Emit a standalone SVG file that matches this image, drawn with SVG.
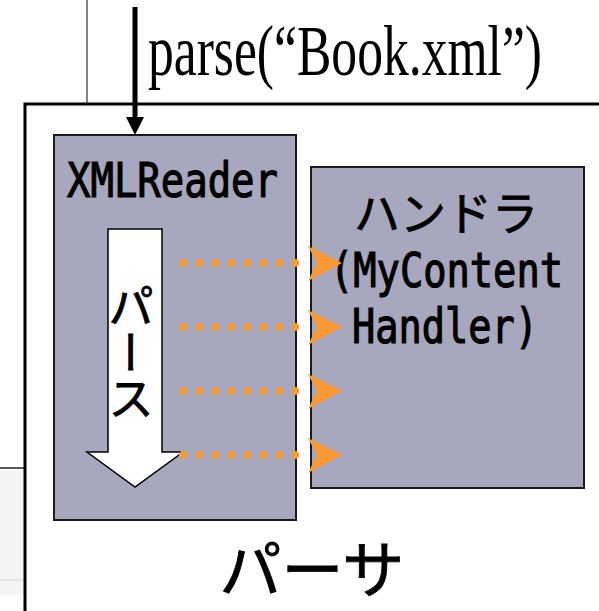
<svg xmlns="http://www.w3.org/2000/svg" width="599" height="611" viewBox="0 0 599 611">
<defs>
<style>
.box{fill:#a7a7bd;stroke:#1a1a1a;stroke-width:2}
.mono{font-family:"DejaVu Sans Mono","Liberation Mono",monospace;font-size:48px;fill:#000;stroke:#000;stroke-width:1.2}
.jp{font-family:"Noto Sans CJK JP","Noto Sans",sans-serif;fill:#000;stroke:#000;stroke-width:0.8}
.dots{stroke:#f99a36;stroke-width:8;stroke-linecap:round;stroke-dasharray:0 16;fill:none}
.head{fill:#f99a36}
</style>
</defs>
<rect width="599" height="611" fill="#fff"/>
<rect x="0" y="470" width="23" height="125" fill="#f3f5f3"/>
<line x1="0" y1="580" x2="23" y2="580" stroke="#e4e6e4" stroke-width="2"/>
<line x1="87" y1="0" x2="87" y2="103" stroke="#333" stroke-width="1.2"/>
<line x1="0" y1="468" x2="24" y2="468" stroke="#222" stroke-width="1.5"/>
<g id="parser">
<rect x="25" y="104" width="620" height="620" fill="none" stroke="#000" stroke-width="3"/>
<text class="jp" x="312" y="593" font-size="62" text-anchor="middle">パーサ</text>
</g>
<g id="xmlreader">
<rect class="box" x="54" y="135" width="242" height="385"/>
<text class="mono" x="67" y="197" textLength="211" lengthAdjust="spacingAndGlyphs">XMLReader</text>
<polygon points="108,229 162,229 162,452 183,452 135,487 87,452 108,452" fill="#fff" stroke="#000" stroke-width="1.5"/>
<text class="jp" x="131" y="283" font-size="46" style="writing-mode:vertical-rl">パース</text>
</g>
<g id="handler">
<rect class="box" x="311" y="167" width="273" height="321"/>
<text class="jp" x="446" y="230" font-size="46" text-anchor="middle">ハンドラ</text>
<text class="mono" x="330" y="287" textLength="233" lengthAdjust="spacingAndGlyphs">(MyContent</text>
<text class="mono" x="352" y="343" textLength="186" lengthAdjust="spacingAndGlyphs">Handler)</text>
</g>
<g id="connectors">
<line x1="135" y1="7" x2="135" y2="119" stroke="#000" stroke-width="5"/>
<polygon points="126,117 144,117 135,135" fill="#000"/>
<line class="dots" x1="183" y1="263" x2="311" y2="263"/>
<line class="dots" x1="183" y1="327" x2="311" y2="327"/>
<line class="dots" x1="183" y1="391" x2="311" y2="391"/>
<line class="dots" x1="183" y1="455" x2="311" y2="455"/>
<polygon class="head" points="308,246 342,263 308,281 317,263"/>
<polygon class="head" points="308,310 342,327 308,345 317,327"/>
<polygon class="head" points="308,374 342,391 308,409 317,391"/>
<polygon class="head" points="308,438 342,455 308,473 317,455"/>
</g>
<text x="148" y="75" font-family="'Liberation Serif','Times New Roman',serif" font-size="52" textLength="394" lengthAdjust="spacingAndGlyphs" transform="translate(0,75) scale(1,1.38) translate(0,-75)">parse(“Book.xml”)</text>
</svg>
